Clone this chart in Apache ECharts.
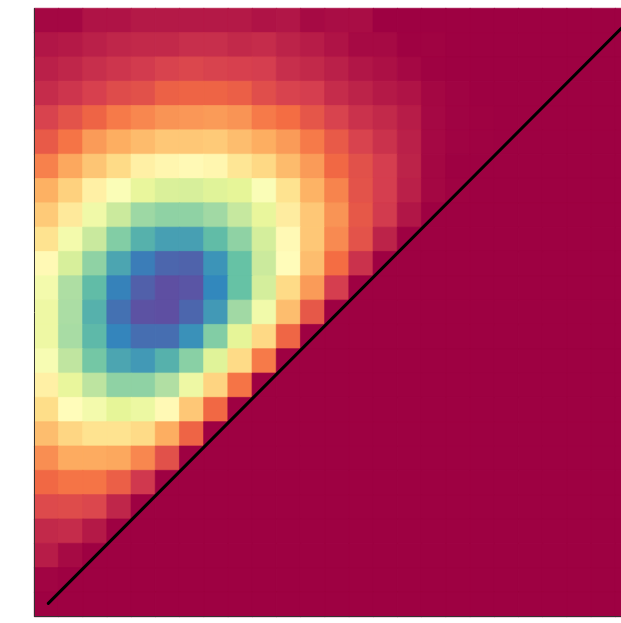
<!DOCTYPE html>
<html><head><meta charset="utf-8">
<style>html,body{margin:0;padding:0;background:#fff;overflow:hidden}#c{width:621px;height:623px}</style>
<script src="https://cdn.jsdelivr.net/npm/echarts@6/dist/echarts.min.js"></script>
</head><body><div id="c"></div>
<script>
const row00=[.01,.01,.03,.03,.04,.04,.04,.04,.04,.03,.035,.015,.02,.02,0,0,0,0,0,0,0,0,0,0,0];
const row01=[.035,.04,.05,.06,.065,.065,.075,.075,.065,.07,.055,.045,.03,.015,.015,.002,.003,0,0,0,0,0,0,0,0];
const row02=[.05,.06,.075,.085,.095,.11,.12,.11,.105,.1,.075,.065,.05,.035,.025,.012,.002,0,0,0,0,0,0,0,0];
const row03=[.07,.085,.105,.13,.14,.175,.18,.18,.17,.135,.11,.1,.07,.055,.04,.03,.01,.004,0,0,0,0,0,0,0];
const row04=[.11,.145,.18,.22,.24,.26,.265,.27,.26,.22,.2,.15,.11,.08,.065,.045,.012,.004,.001,0,0,0,0,0,0];
const row05=[.16,.21,.27,.3,.325,.35,.35,.355,.33,.3,.27,.22,.16,.11,.08,.05,.012,.004,.001,0,0,0,0,0,0];
const row06=[.23,.29,.345,.39,.45,.47,.48,.47,.42,.385,.325,.27,.19,.14,.1,.055,.01,0,0,0,0,0,0,0,0];
const row07=[.305,.37,.45,.52,.59,.62,.625,.61,.6,.52,.41,.31,.235,.145,.1,.05,.01,.001,0,0,0,0,0,0,0];
const row08=[.355,.43,.56,.645,.72,.74,.74,.715,.655,.59,.44,.35,.26,.155,.095,.035,0,0,0,0,0,0,0,0,0];
const row09=[.41,.55,.65,.76,.83,.86,.86,.81,.74,.63,.48,.35,.245,.145,.055,0,0,0,0,0,0,0,0,0,0];
const row10=[.48,.625,.74,.85,.92,.96,.965,.88,.8,.645,.49,.33,.2,.08,0,0,0,0,0,0,0,0,0,0,0];
const row11=[.55,.695,.81,.91,.97,1,.99,.9,.8,.63,.39,.27,.1,0,0,0,0,0,0,0,0,0,0,0,0];
const row12=[.57,.7,.83,.94,.995,1,.96,.87,.715,.555,.33,.155,0,0,0,0,0,0,0,0,0,0,0,0,0];
const row13=[.57,.705,.815,.905,.945,.945,.885,.76,.6,.385,.185,0,0,0,0,0,0,0,0,0,0,0,0,0,0];
const row14=[.53,.665,.78,.85,.87,.83,.75,.61,.39,.22,0,0,0,0,0,0,0,0,0,0,0,0,0,0,0];
const row15=[.45,.59,.67,.74,.74,.69,.57,.375,.21,0,0,0,0,0,0,0,0,0,0,0,0,0,0,0,0];
const row16=[.395,.49,.55,.6,.575,.48,.35,.19,0,0,0,0,0,0,0,0,0,0,0,0,0,0,0,0,0];
const row17=[.33,.38,.41,.41,.39,.3,.18,0,0,0,0,0,0,0,0,0,0,0,0,0,0,0,0,0,0];
const row18=[.25,.295,.295,.29,.24,.14,0,0,0,0,0,0,0,0,0,0,0,0,0,0,0,0,0,0,0];
const row19=[.19,.21,.21,.17,.09,0,0,0,0,0,0,0,0,0,0,0,0,0,0,0,0,0,0,0,0];
const row20=[.125,.13,.12,.06,0,0,0,0,0,0,0,0,0,0,0,0,0,0,0,0,0,0,0,0,0];
const row21=[.065,.07,.04,0,0,0,0,0,0,0,0,0,0,0,0,0,0,0,0,0,0,0,0,0,0];
const row22=[.045,.015,0,0,0,0,0,0,0,0,0,0,0,0,0,0,0,0,0,0,0,0,0,0,0];
const row23=[.005,0,0,0,0,0,0,0,0,0,0,0,0,0,0,0,0,0,0,0,0,0,0,0,0];
const row24=[0,0,0,0,0,0,0,0,0,0,0,0,0,0,0,0,0,0,0,0,0,0,0,0,0];
const rowsTopDown=[row00,row01,row02,row03,row04,row05,row06,row07,row08,row09,row10,row11,row12,row13,row14,row15,row16,row17,row18,row19,row20,row21,row22,row23,row24];
const xCategories=rowsTopDown[0].map((_,i)=>String(i));
const yCategories=xCategories.slice();
const diagonal=[[0.07,0.04],[24,23.94]];
const spectral=['#9e0142','#d53e4f','#f46d43','#fdae61','#fee08b','#ffffbf','#e6f598','#abdda4','#66c2a5','#3288bd','#5e4fa2'];
const cells=[];
rowsTopDown.forEach((row,r)=>row.forEach((v,c)=>cells.push({value:[c,rowsTopDown.length-1-r,v],
  itemStyle:{borderWidth:0.7,borderColor:echarts.color.lerp(v,spectral)}})));
const bandAxis=(pos,data)=>({type:'category',position:pos,data,z:5,
  axisLine:{show:true,onZero:false,lineStyle:{color:'#333',width:1}},axisTick:{show:false},axisLabel:{show:false},splitLine:{show:false},splitArea:{show:false}});
const lineAxis=()=>({type:'value',min:-0.5,max:24.5,show:false});
const chart=echarts.init(document.getElementById('c'),null,{renderer:'canvas'});
chart.setOption({
  animation:false,backgroundColor:'#fff',
  grid:{left:34.5,top:8.5,width:605,height:608,containLabel:false,outerBoundsMode:'none'},
  xAxis:[bandAxis('bottom',xCategories),lineAxis()],
  yAxis:[bandAxis('left',yCategories),lineAxis()],
  visualMap:{show:false,type:'continuous',min:0,max:1,seriesIndex:0,inRange:{color:spectral}},
  series:[
    {type:'heatmap',data:cells,emphasis:{disabled:true},progressive:0,z:2},
    {type:'line',xAxisIndex:1,yAxisIndex:1,data:diagonal,symbol:'none',silent:true,z:4,clip:false,
     lineStyle:{color:'#000',width:3,cap:'round'}}
  ]
});
</script></body></html>
